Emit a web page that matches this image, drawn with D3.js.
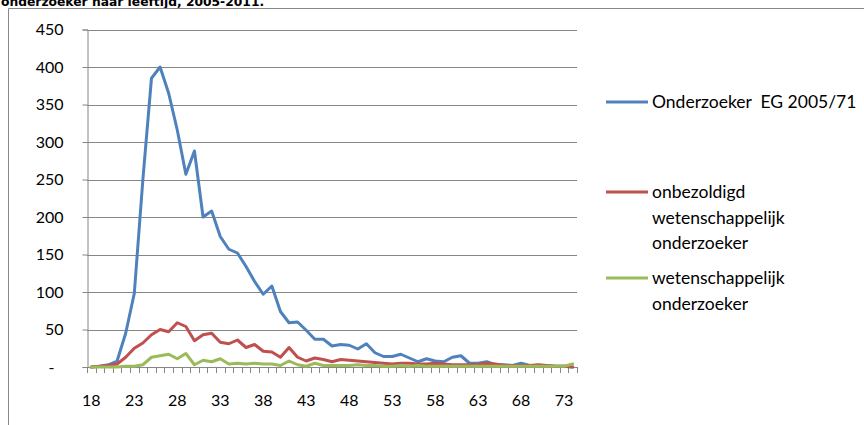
<!DOCTYPE html>
<html>
<head>
<meta charset="utf-8">
<script src="https://cdn.jsdelivr.net/npm/d3@7"></script>
<style>
  html, body { margin: 0; padding: 0; background: #fff; }
  svg { display: block; }
  text { font-family: Lato, "Open Sans", sans-serif; fill: #000; }
</style>
</head>
<body>
<svg id="chart" width="864" height="425"></svg>
<script>
// ---- data ----
const ages = d3.range(18, 75); // 18 .. 74
const seriesNames = ["Onderzoeker  EG 2005/71", "onbezoldigd wetenschappelijk onderzoeker", "wetenschappelijk onderzoeker"];
const onderzoekerEG = [0,1,3,8,45,98,250,385,400,365,316,257,288,200,208,174,157,152,134,114,97,108,74,59,60,49,37,37,28,30,29,24,31,19,14,14,17,12,7,11,8,7,13,15,5,5,7,3,3,2,5,2,2,2,1,1,0];
const onbezoldigd  = [0,1,2,4,13,25,32,43,50,47,59,54,35,43,45,33,31,36,26,30,21,20,13,26,13,8,12,10,7,10,9,8,7,6,5,4,5,5,4,4,5,4,3,3,3,3,5,4,2,2,2,2,3,2,1,1,0];
const wetenschappelijk = [0,0,0,0,1,1,3,13,15,17,11,18,3,9,7,11,4,5,4,5,4,4,2,8,3,1,5,2,2,2,2,3,2,2,1,1,2,1,2,1,1,1,1,1,1,1,1,1,1,1,1,1,1,1,1,1,4];
const yTicks = [0,50,100,150,200,250,300,350,400,450];
const xLabelAges = [18,23,28,33,38,43,48,53,58,63,68,73];
const titleText = "onderzoeker naar leeftijd, 2005-2011.";
const colors = ["#4F81BD", "#C0504D", "#9BBB59"];

// ---- layout ----
const svg = d3.select("#chart");
const x = d3.scaleBand().domain(ages).range([87, 577]).paddingInner(0).paddingOuter(0);
const y = d3.scaleLinear().domain([0, 450]).range([367, 29.5]);
const cx = a => x(a) + x.bandwidth() / 2;

// title (cut off at top, as in the source)
svg.append("text").attr("x", 1).attr("y", 6)
  .style("font-family", "'DejaVu Sans', Verdana, sans-serif")
  .style("font-weight", "bold").style("font-size", "12.3px")
  .text(titleText);

// outer border
svg.append("path").attr("d", "M8.5,430 V8.5 H870")
  .attr("fill", "none").attr("stroke", "#888").attr("stroke-width", 1);

// gridlines
svg.append("g").selectAll("line").data(yTicks.filter(d => d > 0)).join("line")
  .attr("x1", 87).attr("x2", 577)
  .attr("y1", d => Math.round(y(d)) + 0.5).attr("y2", d => Math.round(y(d)) + 0.5)
  .attr("stroke", "#868686").attr("stroke-width", 1);

// y axis
const yAxis = svg.append("g").attr("transform", "translate(87.5,0)")
  .call(d3.axisLeft(y).tickValues(yTicks).tickSize(5).tickPadding(19)
    .tickFormat(d => d === 0 ? "-" : d));
yAxis.select(".domain").attr("stroke", "#868686");
yAxis.selectAll(".tick line").attr("stroke", "#868686");
yAxis.selectAll(".tick text").style("font-family", "Lato, sans-serif").style("font-size", "16px").attr("fill", "#000");
yAxis.selectAll(".tick").filter(d => d === 0).select("text").attr("dx", "-9");

// x axis: labels via axis, tick marks at category boundaries
const xAxis = svg.append("g").attr("transform", "translate(0,367.5)")
  .call(d3.axisBottom(x).tickValues(xLabelAges).tickSize(0).tickPadding(27));
xAxis.select(".domain").remove();
xAxis.selectAll(".tick text").style("font-family", "Lato, sans-serif").style("font-size", "16px").attr("fill", "#000");
svg.append("line").attr("x1", 87).attr("x2", 577).attr("y1", 367.5).attr("y2", 367.5).attr("stroke", "#868686");
svg.append("g").selectAll("line").data(ages.concat([null])).join("line")
  .attr("x1", d => Math.round(d === null ? 577 : x(d)) + 0.5)
  .attr("x2", d => Math.round(d === null ? 577 : x(d)) + 0.5)
  .attr("y1", 367).attr("y2", 373)
  .attr("stroke", "#868686");

// lines
const line = d3.line().x((d, i) => cx(ages[i])).y(d => y(d));
[onderzoekerEG, onbezoldigd, wetenschappelijk].forEach((s, k) => {
  svg.append("path").datum(s).attr("d", line)
    .attr("fill", "none").attr("stroke", colors[k]).attr("stroke-width", 3)
    .attr("stroke-linejoin", "round").attr("stroke-linecap", "round");
});

// legend
const legendItems = [
  { lines: ["Onderzoeker  EG 2005/71"], y: 102 },
  { lines: ["onbezoldigd", "wetenschappelijk", "onderzoeker"], y: 192 },
  { lines: ["wetenschappelijk", "onderzoeker"], y: 278 }
];
legendItems.forEach((it, k) => {
  svg.append("line").attr("x1", 606).attr("x2", 648).attr("y1", it.y).attr("y2", it.y)
    .attr("stroke", colors[k]).attr("stroke-width", 3);
  const t = svg.append("text").attr("x", 652).attr("y", it.y)
    .style("font-size", "17.5px").style("white-space", "pre");
  it.lines.forEach((ln, j) => {
    t.append("tspan").attr("x", 652).attr("dy", j === 0 ? "0.35em" : "25.5px").text(ln);
  });
});
</script>
</body>
</html>
